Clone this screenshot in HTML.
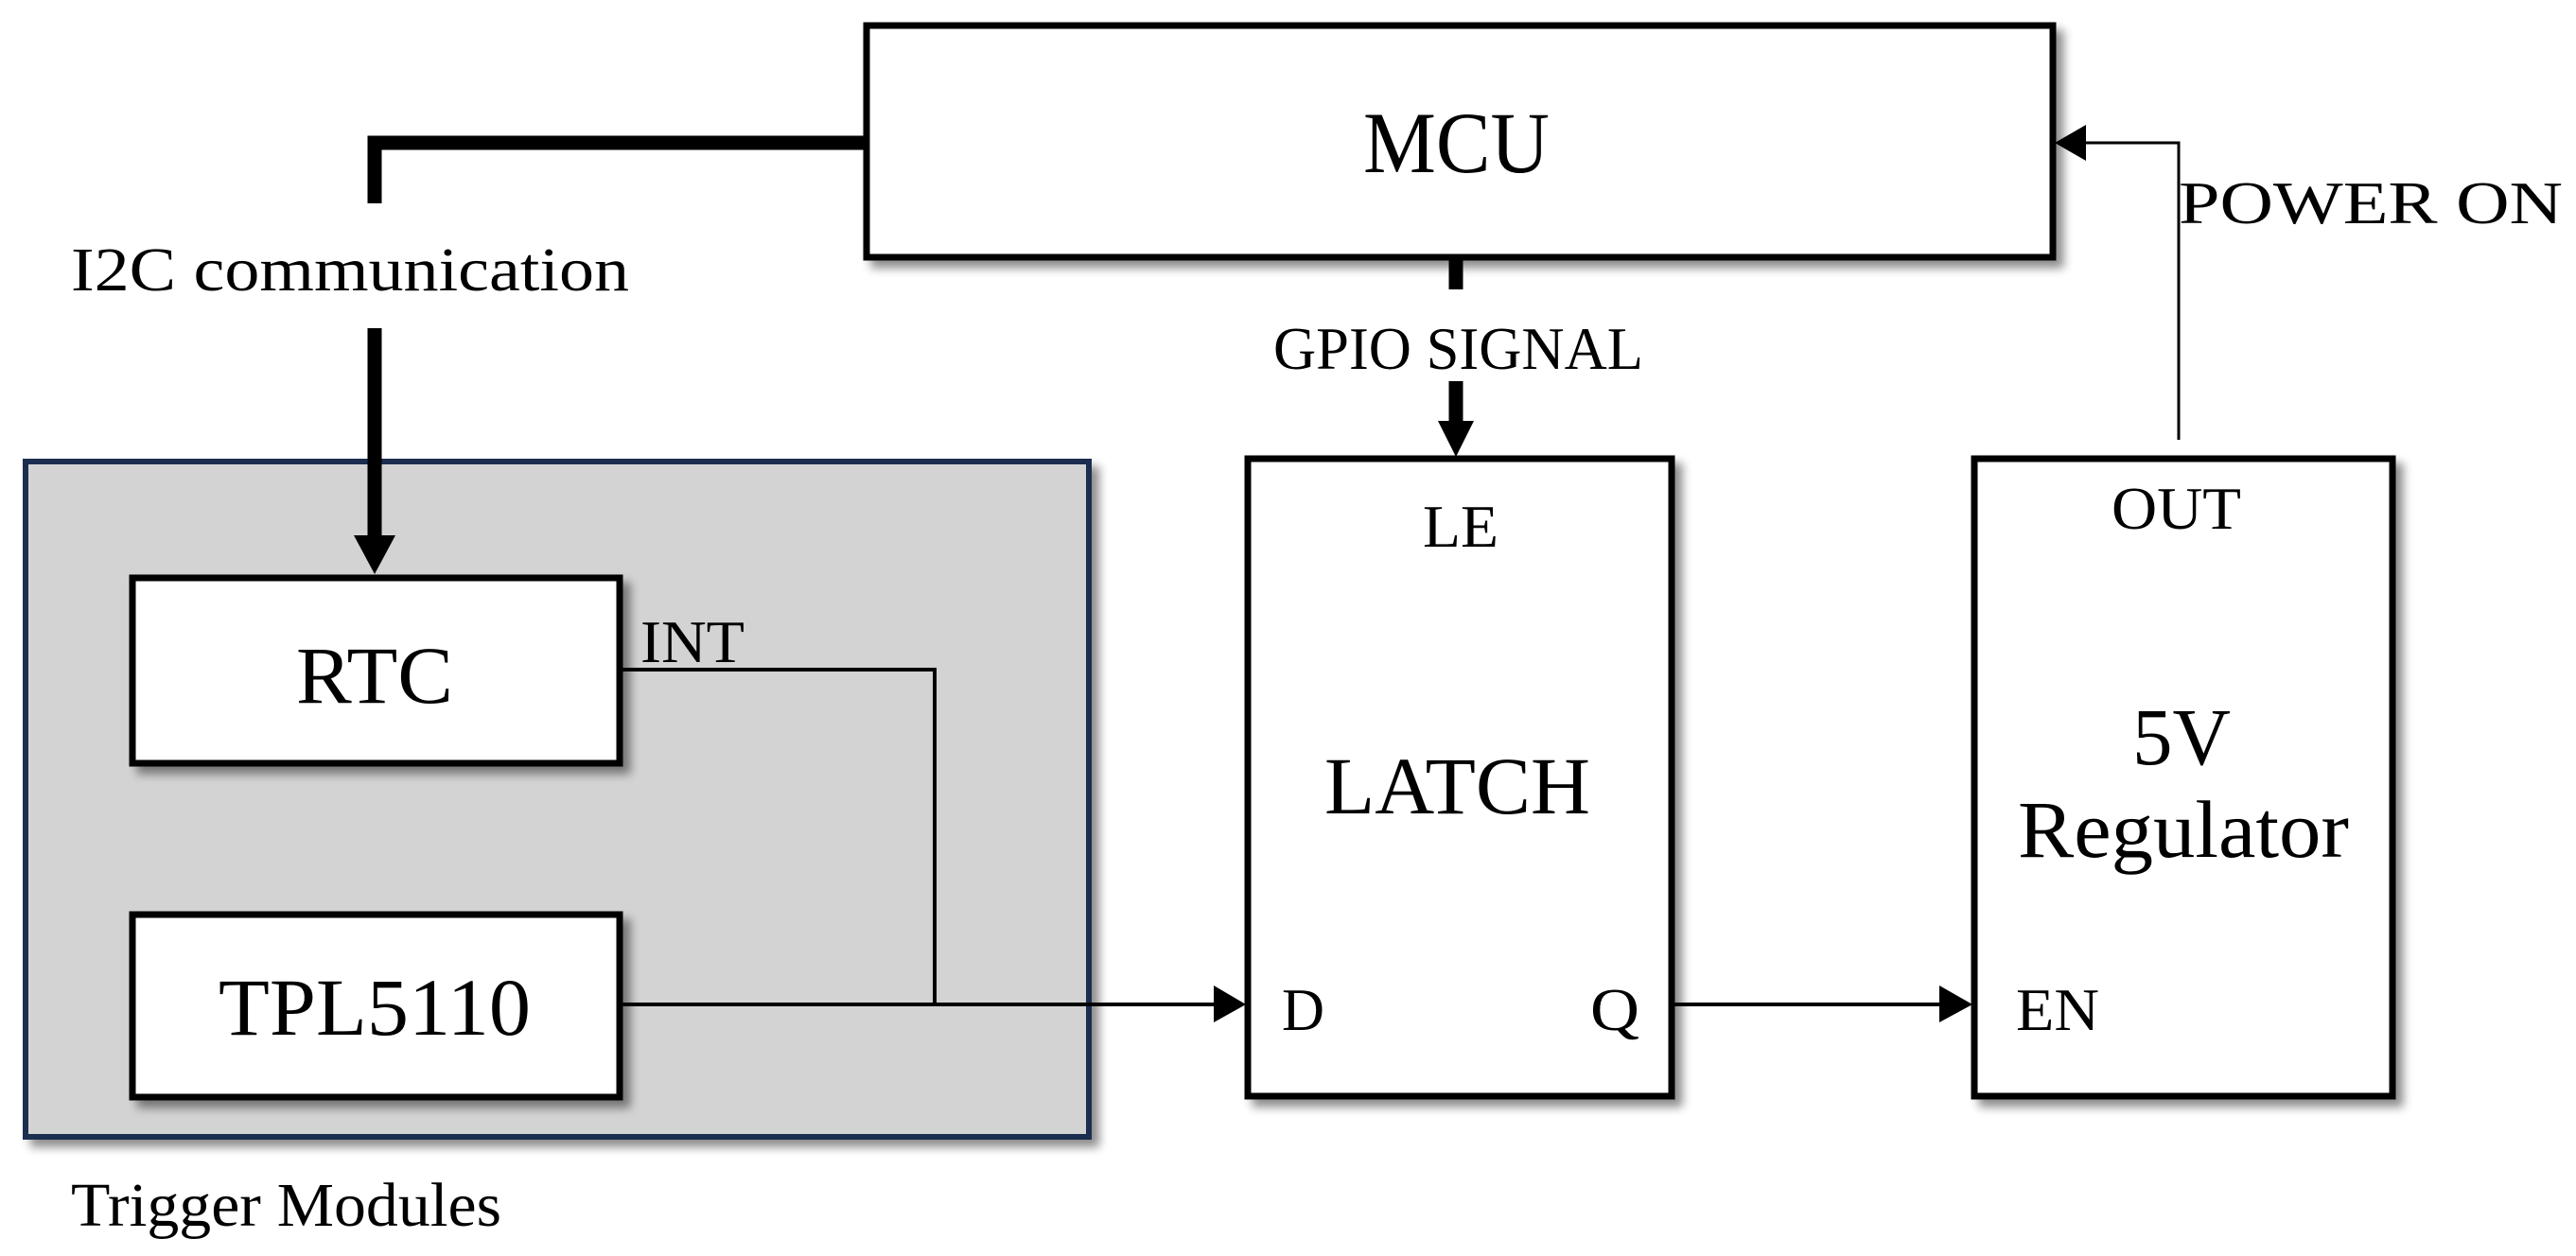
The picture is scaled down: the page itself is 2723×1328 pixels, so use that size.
<!DOCTYPE html>
<html><head><style>html,body{margin:0;padding:0;background:#fff}svg{display:block}text{font-family:"Liberation Serif",serif;fill:#000}</style></head>
<body>
<svg width="2723" height="1328" viewBox="0 0 2723 1328" xmlns="http://www.w3.org/2000/svg">
<defs>
<filter id="sh" x="-10%" y="-10%" width="130%" height="130%">
<feGaussianBlur in="SourceAlpha" stdDeviation="5"/>
<feOffset dx="8" dy="8" result="b"/>
<feComponentTransfer><feFuncA type="linear" slope="0.45"/></feComponentTransfer>
<feMerge><feMergeNode/><feMergeNode in="SourceGraphic"/></feMerge>
</filter>
</defs>
<rect x="0" y="0" width="2723" height="1328" fill="#fff"/>
<rect x="27" y="488" width="1124" height="714" fill="#d3d3d3" stroke="#1b2d4f" stroke-width="6" filter="url(#sh)"/>
<rect x="916" y="27" width="1254" height="245" fill="#fff" stroke="#000" stroke-width="7" filter="url(#sh)"/>
<rect x="140" y="611" width="515" height="196" fill="#fff" stroke="#000" stroke-width="7" filter="url(#sh)"/>
<rect x="140" y="967" width="515" height="193" fill="#fff" stroke="#000" stroke-width="7" filter="url(#sh)"/>
<rect x="1319" y="485" width="448" height="674" fill="#fff" stroke="#000" stroke-width="7" filter="url(#sh)"/>
<rect x="2087" y="485" width="442" height="674" fill="#fff" stroke="#000" stroke-width="7" filter="url(#sh)"/>
<polyline points="913,151 396,151 396,215" fill="none" stroke="#000" stroke-width="15"/>
<line x1="396" y1="347" x2="396" y2="570" stroke="#000" stroke-width="15"/>
<polygon points="374,566 418,566 396,607" fill="#000"/>
<line x1="1539" y1="273" x2="1539" y2="306" stroke="#000" stroke-width="15"/>
<line x1="1539" y1="403" x2="1539" y2="450" stroke="#000" stroke-width="15"/>
<polygon points="1520,445 1558,445 1539,483" fill="#000"/>
<polyline points="658,708 988,708 988,1062" fill="none" stroke="#000" stroke-width="4"/>
<line x1="658" y1="1062" x2="1290" y2="1062" stroke="#000" stroke-width="4"/>
<polygon points="1283,1042 1317,1062 1283,1081" fill="#000"/>
<line x1="1770" y1="1062" x2="2055" y2="1062" stroke="#000" stroke-width="4"/>
<polygon points="2050,1042 2085,1062 2050,1081" fill="#000"/>
<polyline points="2303,465 2303,151 2200,151" fill="none" stroke="#000" stroke-width="3"/>
<polygon points="2205,132 2172,151 2205,170" fill="#000"/>
<text x="1441" y="182" font-size="92" textLength="197" lengthAdjust="spacingAndGlyphs">MCU</text>
<text x="75" y="307" font-size="66" textLength="590" lengthAdjust="spacingAndGlyphs">I2C communication</text>
<text x="1346" y="390" font-size="64" textLength="391" lengthAdjust="spacingAndGlyphs">GPIO SIGNAL</text>
<text x="2303" y="236" font-size="64" textLength="406" lengthAdjust="spacingAndGlyphs">POWER ON</text>
<text x="313" y="743" font-size="86" textLength="166" lengthAdjust="spacingAndGlyphs">RTC</text>
<text x="231" y="1094" font-size="86" textLength="330" lengthAdjust="spacingAndGlyphs">TPL5110</text>
<text x="677" y="700" font-size="64" textLength="110" lengthAdjust="spacingAndGlyphs">INT</text>
<text x="75" y="1296" font-size="66" textLength="455" lengthAdjust="spacingAndGlyphs">Trigger Modules</text>
<text x="1504" y="578" font-size="64" textLength="80" lengthAdjust="spacingAndGlyphs">LE</text>
<text x="1400" y="860" font-size="86" textLength="281" lengthAdjust="spacingAndGlyphs">LATCH</text>
<text x="1355" y="1089" font-size="64" textLength="45" lengthAdjust="spacingAndGlyphs">D</text>
<text x="1681" y="1089" font-size="64" textLength="52" lengthAdjust="spacingAndGlyphs">Q</text>
<text x="2232" y="559" font-size="64" textLength="137" lengthAdjust="spacingAndGlyphs">OUT</text>
<text x="2254" y="808" font-size="86" textLength="104" lengthAdjust="spacingAndGlyphs">5V</text>
<text x="2133" y="906" font-size="86" textLength="350" lengthAdjust="spacingAndGlyphs">Regulator</text>
<text x="2131" y="1089" font-size="64" textLength="88" lengthAdjust="spacingAndGlyphs">EN</text>
</svg>
</body></html>
